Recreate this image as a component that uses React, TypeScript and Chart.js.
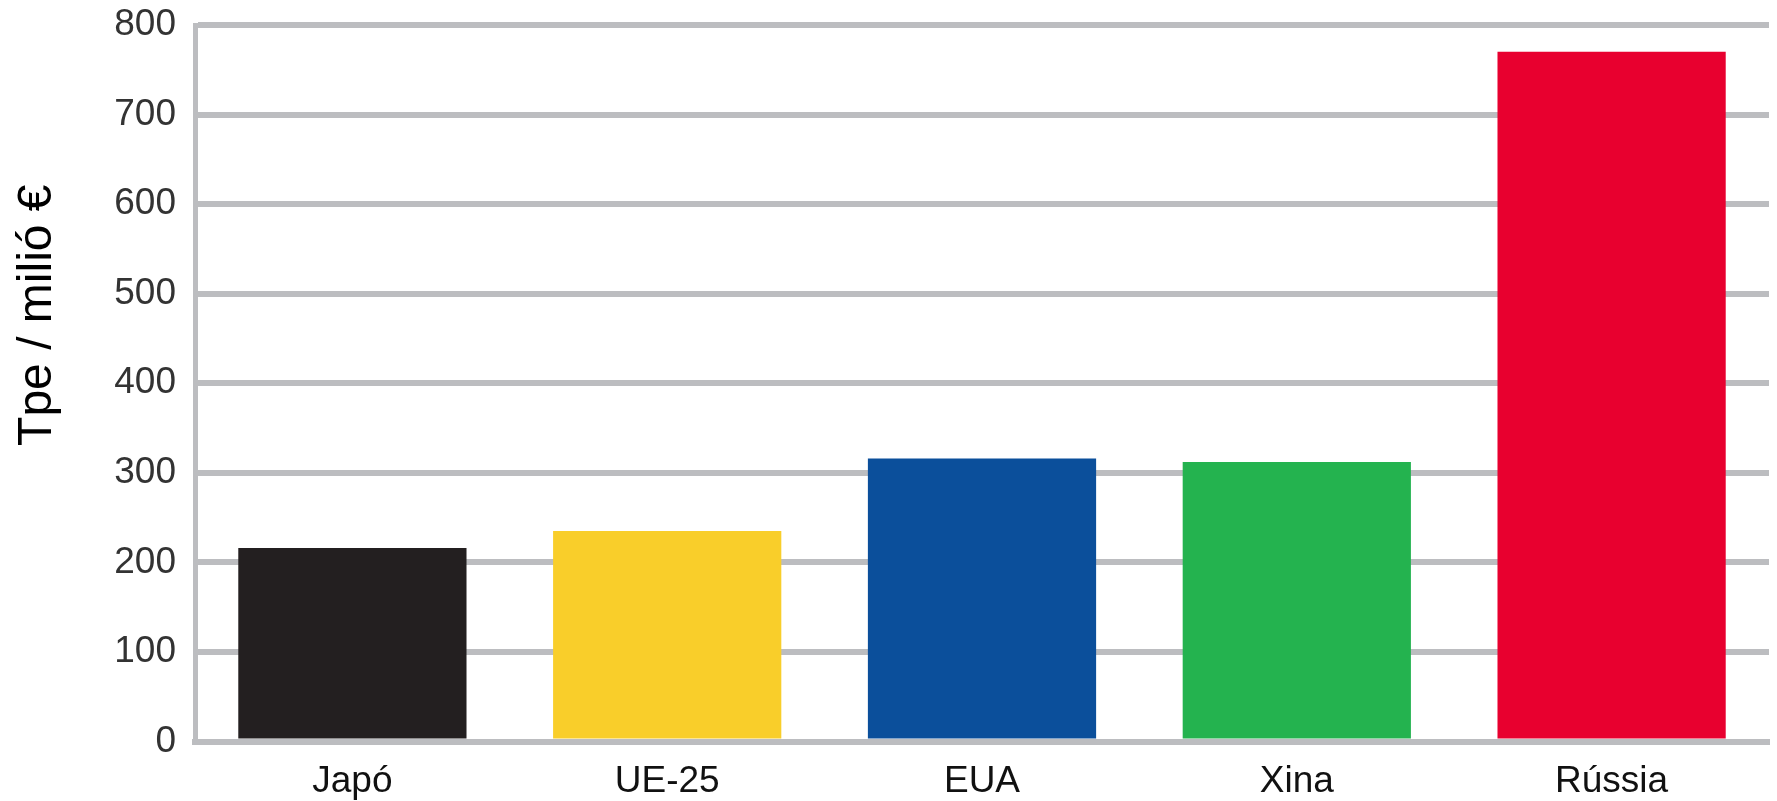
import React, { useEffect, useRef } from "react";
import { Chart, registerables } from "chart.js";

Chart.register(...registerables);

const categories = ["Japó", "UE-25", "EUA", "Xina", "Rússia"];
const values = [216, 235, 316, 312, 770];
const barColors = ["#231f20", "#f9ce2a", "#0b4f9b", "#24b34f", "#e8002f"];
const yTitle = "Tpe / milió €";
const yMin = 0;
const yMax = 800;
const yStep = 100;

const FONT = "'Liberation Sans', Arial, sans-serif";

const yTitlePlugin = {
  id: "yTitlePlugin",
  afterDraw(chart: any) {
    const { ctx, chartArea } = chart;
    const cy = chartArea.top + 0.405 * (chartArea.bottom - chartArea.top);
    ctx.save();
    ctx.translate(38, cy);
    ctx.rotate(-Math.PI / 2);
    ctx.font = `normal 48px ${FONT}`;
    ctx.fillStyle = "#000000";
    ctx.textAlign = "center";
    ctx.textBaseline = "middle";
    ctx.fillText(yTitle, 0, 0);
    ctx.restore();
  },
};

export default function App() {
  const ref = useRef<HTMLCanvasElement | null>(null);

  useEffect(() => {
    if (!ref.current) return;
    const chart = new Chart(ref.current, {
      type: "bar",
      data: {
        labels: categories,
        datasets: [
          {
            data: values,
            backgroundColor: barColors,
            borderWidth: 0,
            barPercentage: 0.725,
            categoryPercentage: 1,
          },
        ],
      },
      options: {
        animation: false,
        responsive: false,
        maintainAspectRatio: false,
        devicePixelRatio: 1,
        layout: { padding: { top: 0, right: 8, bottom: 0, left: 0 } },
        plugins: {
          legend: { display: false },
          tooltip: { enabled: false },
        },
        scales: {
          x: {
            grid: { display: false, drawTicks: false },
            border: { display: true, color: "#bcbdc0", width: 6 },
            ticks: {
              color: "#111111",
              padding: 18,
              font: { family: FONT, size: 37 },
              maxRotation: 0,
            },
            afterFit: (s: any) => {
              s.height = 59.5;
            },
          },
          y: {
            min: yMin,
            max: yMax,
            grid: { color: "#bcbdc0", lineWidth: 6, drawTicks: false },
            border: { display: true, color: "#bcbdc0", width: 5 },
            ticks: {
              stepSize: yStep,
              color: "#333333",
              padding: 19,
              font: { family: FONT, size: 37 },
            },
            title: { display: false },
            afterFit: (s: any) => {
              s.width = 195;
              s.paddingTop = 25;
              s.paddingBottom = 0;
            },
          },
        },
      },
      plugins: [yTitlePlugin],
    });
    return () => chart.destroy();
  }, []);

  return (
    <div style={{ position: "absolute", left: 0, top: 0, width: 1777, height: 801, background: "#ffffff" }}>
      <canvas ref={ref} width={1777} height={801} style={{ width: 1777, height: 801 }} />
    </div>
  );
}
